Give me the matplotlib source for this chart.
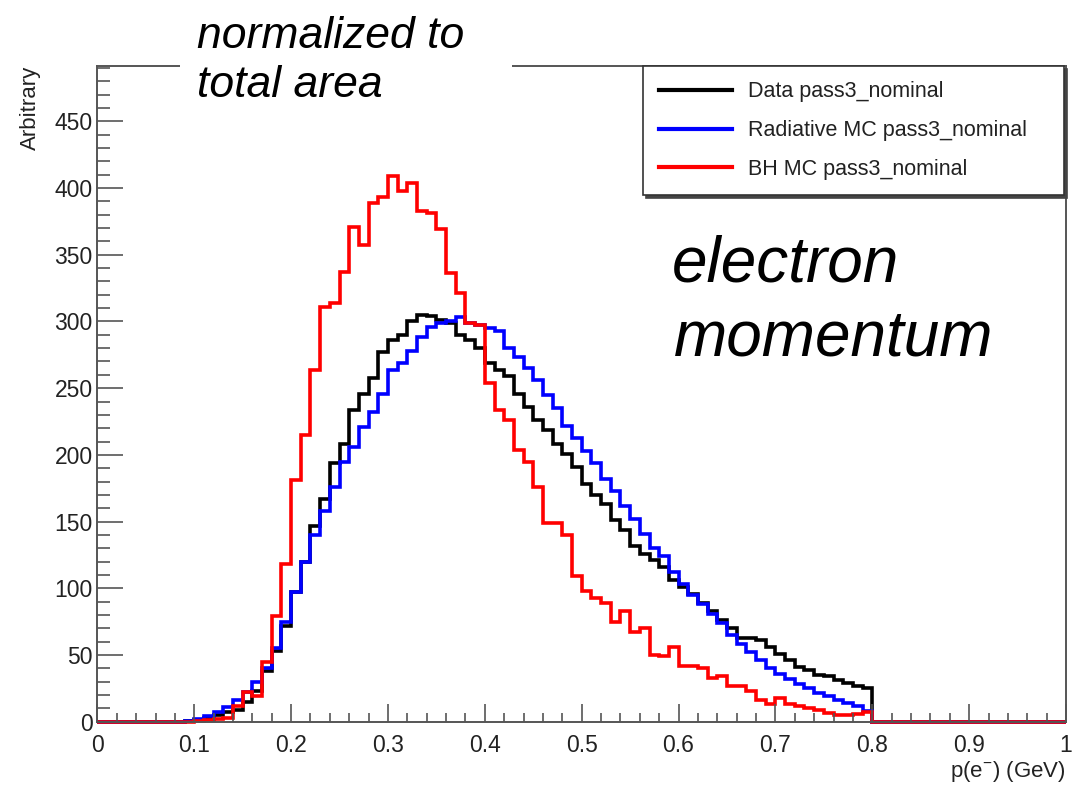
import numpy as np
import matplotlib.pyplot as plt
from matplotlib.patches import Rectangle
from matplotlib.ticker import MultipleLocator

plt.rcParams['font.family'] = ['Liberation Sans', 'DejaVu Sans']
plt.rcParams['mathtext.fontset'] = 'custom'
plt.rcParams['mathtext.rm'] = 'Liberation Sans'
plt.rcParams['mathtext.it'] = 'Liberation Sans:italic'

# 100 bins of width 0.01 GeV, from 0 to 1 GeV
bin_edges = np.linspace(0, 1, 101)

data_nominal = [
    0, 0, 0, 0, 0, 0, 0, 0, 0, 0.5,
    1.5, 3, 5, 7, 9, 15, 23, 38, 53, 72,
    97, 120, 147, 167, 194, 208, 234, 246, 258, 277,
    286, 290, 300, 305, 304, 301, 299, 290, 286, 280,
    269, 264, 259, 246, 236, 226, 219, 208, 201, 191,
    178, 170, 163, 151, 144, 132, 126, 121, 116, 106,
    101, 96, 89, 83, 76, 70, 63, 63, 61, 56,
    51, 46, 41, 39, 35, 34, 31, 29, 27, 25,
    0, 0, 0, 0, 0, 0, 0, 0, 0, 0,
    0, 0, 0, 0, 0, 0, 0, 0, 0, 0,
]

radiative_mc = [
    0, 0, 0, 0, 0, 0, 0, 0, 0, 0.5,
    2, 4, 7, 11, 16, 22, 30, 40, 55, 75,
    97, 120, 140, 158, 176, 195, 206, 221, 232, 246,
    264, 269, 278, 288, 296, 299, 300, 303, 299, 297,
    295, 293, 280, 273, 265, 256, 245, 235, 222, 213,
    203, 194, 182, 173, 162, 152, 141, 130, 124, 112,
    103, 95, 88, 81, 74, 65, 58, 52, 46, 40,
    36, 32, 28, 25, 21.5, 19, 16.5, 14, 11.5, 8,
    0, 0, 0, 0, 0, 0, 0, 0, 0, 0,
    0, 0, 0, 0, 0, 0, 0, 0, 0, 0,
]

bh_mc = [
    0, 0, 0, 0, 0, 0, 0, 0, 0, 0,
    0.5, 1, 2, 3, 11.5, 22, 19.5, 44.5, 79, 118,
    181, 215, 264, 311, 314, 337, 371, 357, 389, 393,
    409, 398, 404, 383, 381, 369, 336, 321, 299, 297,
    254, 234, 226, 204, 195, 176, 149, 149, 140, 109,
    98, 93, 89, 75, 83, 67, 70, 50, 49, 56,
    41.5, 42, 40, 33, 34.5, 26.5, 26.5, 23, 16.5, 13.5,
    18, 13.5, 12, 10, 9, 6.5, 5, 5, 6, 7,
    0, 0, 0, 0, 0, 0, 0, 0, 0, 0,
    0, 0, 0, 0, 0, 0, 0, 0, 0, 0,
]

labels = ["Data pass3_nominal", "Radiative MC pass3_nominal", "BH MC pass3_nominal"]
colors = ["black", "#0000ff", "#ff0000"]

W, H = 1072, 788
fig = plt.figure(figsize=(W / 100, H / 100), dpi=100)
ax = fig.add_axes([97.4 / W, 1 - 721.7 / H, (1066 - 97.4) / W, (721.7 - 66) / H])

for vals, lab, col in zip([data_nominal, radiative_mc, bh_mc], labels, colors):
    ax.stairs(vals, bin_edges, color=col, lw=2.6, label=lab, baseline=None, clip_on=False)

ax.set_xlim(0, 1)
ax.set_ylim(0, 491.5)

ax.xaxis.set_major_locator(MultipleLocator(0.1))
ax.xaxis.set_minor_locator(MultipleLocator(0.02))
ax.yaxis.set_major_locator(MultipleLocator(50))
ax.yaxis.set_minor_locator(MultipleLocator(10))
ax.set_xticks(np.arange(0, 1.01, 0.1))
ax.set_xticklabels(["0", "0.1", "0.2", "0.3", "0.4", "0.5", "0.6", "0.7", "0.8", "0.9", "1"])

for s in ax.spines.values():
    s.set_color("#555555")
    s.set_linewidth(1.4)

ax.tick_params(axis="both", which="both", direction="in", color="#555555", width=1.2,
               labelsize=16.5, labelcolor="#222222")
ax.tick_params(axis="x", which="major", length=13, pad=8.5)
ax.tick_params(axis="x", which="minor", length=6.5)
ax.tick_params(axis="y", which="major", length=19, pad=3.5)
ax.tick_params(axis="y", which="minor", length=9.5)

fig.text(1066 / W, 1 - 772 / H, r"p(e$^{-}$) (GeV)", ha="right", va="center",
         fontsize=16, color="#222222")
fig.text(30 / W, 1 - 66 / H, "Arbitrary", rotation=90, ha="center", va="top",
         fontsize=16, color="#222222")

leg = ax.legend(loc="upper left", mode="expand",
                bbox_to_anchor=(643 / W, 1 - 188 / H, (1064 - 643) / W, (188 - 66) / H),
                bbox_transform=fig.transFigure, borderaxespad=0, fontsize=15.5,
                handlelength=3.4, handletextpad=0.75, borderpad=0.72, labelspacing=0.82,
                fancybox=False, framealpha=1, edgecolor="#333333",
                shadow={"color": "#444444", "alpha": 1})
leg.get_frame().set_linewidth(1.2)
for line in leg.get_lines():
    line.set_linewidth(3)
for t in leg.get_texts():
    t.set_color("#222222")

# white box behind the annotation covering the frame
fig.add_artist(Rectangle((180 / W, 1 - 110 / H), (512 - 180) / W, 110 / H,
                         transform=fig.transFigure, facecolor="white", edgecolor="none", zorder=5))
fig.text(197 / W, 1 - 48 / H, "normalized to", fontsize=32, style="italic",
         va="baseline", zorder=6)
fig.text(197 / W, 1 - 97 / H, "total area", fontsize=32, style="italic",
         va="baseline", zorder=6)

fig.text(672 / W, 1 - 281 / H, "electron", fontsize=46, style="italic", va="baseline")
fig.text(674 / W, 1 - 356 / H, "momentum", fontsize=46, style="italic", va="baseline")

fig.savefig("out.png", dpi=100)
